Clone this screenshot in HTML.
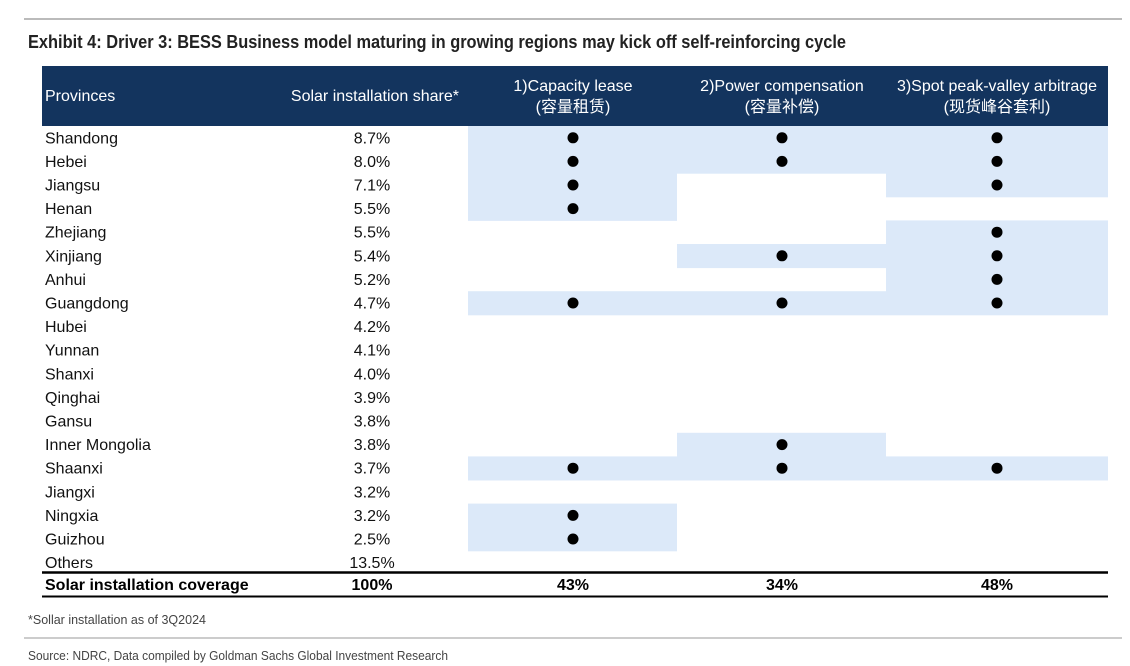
<!DOCTYPE html>
<html><head><meta charset="utf-8"><style>
body{margin:0;background:#fff;width:1130px;height:666px;overflow:hidden}
svg{display:block}
text{font-family:"Liberation Sans","Noto Sans CJK SC",sans-serif}
</style></head><body>
<svg id="s" width="1130" height="666">
<line x1="24" y1="19" x2="1122" y2="19" stroke="#bbb" stroke-width="2"/>
<text x="28" y="48" font-size="18" font-weight="bold" fill="#222" textLength="818" lengthAdjust="spacingAndGlyphs">Exhibit 4: Driver 3: BESS Business model maturing in growing regions may kick off self-reinforcing cycle</text>
<rect x="42" y="66" width="1066" height="60" fill="#13345e"/>
<text x="45" y="101" font-size="16" fill="#fff">Provinces</text>
<text x="459" y="101" font-size="16" fill="#fff" text-anchor="end">Solar installation share*</text>
<text x="573" y="91" font-size="16" fill="#fff" text-anchor="middle">1)Capacity lease</text>
<text x="573" y="112" font-size="16" fill="#fff" text-anchor="middle">(容量租赁)</text>
<text x="782" y="91" font-size="16" fill="#fff" text-anchor="middle">2)Power compensation</text>
<text x="782" y="112" font-size="16" fill="#fff" text-anchor="middle">(容量补偿)</text>
<text x="997" y="91" font-size="16" fill="#fff" text-anchor="middle">3)Spot peak-valley arbitrage</text>
<text x="997" y="112" font-size="16" fill="#fff" text-anchor="middle">(现货峰谷套利)</text>
<g id="body"></g>
<line x1="42" y1="572.5" x2="1108" y2="572.5" stroke="#000" stroke-width="2.5"/>
<text x="45" y="590" font-size="16" font-weight="bold">Solar installation coverage</text>
<text x="372" y="590" font-size="16" font-weight="bold" text-anchor="middle">100%</text>
<text x="573" y="590" font-size="16" font-weight="bold" text-anchor="middle">43%</text>
<text x="782" y="590" font-size="16" font-weight="bold" text-anchor="middle">34%</text>
<text x="997" y="590" font-size="16" font-weight="bold" text-anchor="middle">48%</text>
<line x1="42" y1="596.5" x2="1108" y2="596.5" stroke="#000" stroke-width="2"/>
<text x="28" y="624" font-size="13" fill="#444" textLength="178" lengthAdjust="spacingAndGlyphs">*Sollar installation as of 3Q2024</text>
<line x1="24" y1="638" x2="1122" y2="638" stroke="#bbb" stroke-width="1.5"/>
<text x="28" y="660" font-size="13" fill="#444" textLength="420" lengthAdjust="spacingAndGlyphs">Source: NDRC, Data compiled by Goldman Sachs Global Investment Research</text>
</svg>
<script>
const provinces=["Shandong","Hebei","Jiangsu","Henan","Zhejiang","Xinjiang","Anhui","Guangdong","Hubei","Yunnan","Shanxi","Qinghai","Gansu","Inner Mongolia","Shaanxi","Jiangxi","Ningxia","Guizhou","Others"];
const shares=["8.7%","8.0%","7.1%","5.5%","5.5%","5.4%","5.2%","4.7%","4.2%","4.1%","4.0%","3.9%","3.8%","3.8%","3.7%","3.2%","3.2%","2.5%","13.5%"];
const capacityLease=[1,1,1,1,0,0,0,1,0,0,0,0,0,0,1,0,1,1,0];
const powerComp=[1,1,0,0,0,1,0,1,0,0,0,0,0,1,1,0,0,0,0];
const spotArb=[1,1,1,0,1,1,1,1,0,0,0,0,0,0,1,0,0,0,0];
const NS="http://www.w3.org/2000/svg";
const g=document.getElementById('body');
const top0=126,rh=23.6;
const cols=[{x:468,w:209,c:573,d:capacityLease,n:'capacity-lease'},{x:677,w:209,c:782,d:powerComp,n:'power-compensation'},{x:886,w:222,c:997,d:spotArb,n:'spot-arbitrage'}];
function mk(t,a){const e=document.createElementNS(NS,t);for(const k in a)e.setAttribute(k,a[k]);return e;}
provinces.forEach((p,i)=>{
  const y=top0+i*rh;
  cols.forEach(col=>{
    if(col.d[i]){
      const r=mk('rect',{x:col.x,y:y,width:col.w,height:rh+0.5,fill:'#dce9f9'});
      
      
      g.appendChild(r);
      const c=mk('circle',{cx:col.c,cy:y+rh/2,r:5.5,fill:'#000'});
      
      
      g.appendChild(c);
    }
  });
  const t=mk('text',{x:45,y:y+rh/2+5.5,'font-size':16,fill:'#111'});
  t.textContent=p;
  
  
  g.appendChild(t);
  const s=mk('text',{x:372,y:y+rh/2+5.5,'font-size':16,fill:'#111','text-anchor':'middle'});
  s.textContent=shares[i];
  
  
  g.appendChild(s);
});
</script>
</body></html>
